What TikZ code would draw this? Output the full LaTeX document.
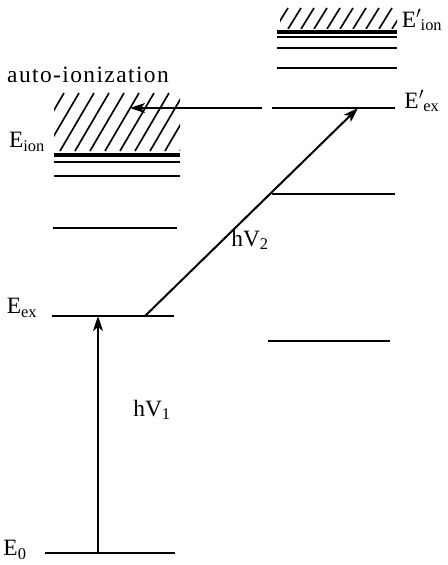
\documentclass[tikz,border=0pt]{standalone}
\usepackage{fontspec}
\setmainfont{Liberation Serif}
\usetikzlibrary{arrows.meta}
\newcommand{\Eprime}[1]{E$'$\kern-0.5pt\textsubscript{#1}}

\begin{document}
\begin{tikzpicture}[x=0.03cm,y=-0.03cm,
    every node/.style={font=\fontsize{20}{23}\selectfont,inner sep=0pt},
    level/.style={line width=2.4pt},
    heavy/.style={line width=3pt},
    hatch/.style={line width=1.4pt},
    arrow/.style={-{Stealth[length=4.5mm,width=3mm,inset=1.2mm]},line width=1.7pt}
]
\useasboundingbox (0,0) rectangle (447,565);

% left column of levels
\draw[level] (45,553) -- (175,553);
\draw[level] (52,316) -- (174,316);
\draw[level] (53,228) -- (177,228);
\draw[level] (54,176) -- (180,176);
\draw[level] (54,162) -- (180,162);
\draw[heavy] (54,155) -- (180,155);
\begin{scope}
  \clip (54,93) rectangle (180,151);
  \foreach \x in {30,45,...,200}
    \draw[hatch] (\x,151) -- ++(34,-58);
\end{scope}

% right column of levels
\draw[level] (268,341) -- (390,341);
\draw[level] (272,194) -- (395,194);
\draw[level] (272,108) -- (395,108);
\draw[level] (277,68) -- (397,68);
\draw[level] (277,48) -- (397,48);
\draw[level] (277,37) -- (397,37);
\draw[heavy] (277,32) -- (397,32);
\begin{scope}
  \clip (280,8) rectangle (397,29);
  \foreach \x in {262,275,...,400}
    \draw[hatch] (\x,29) -- ++(13,-21);
\end{scope}

% transitions
\coordinate (ground) at (98,553);
\coordinate (exc) at (98,316);
\coordinate (start2) at (145,316);
\coordinate (exc2) at (358,108);
\coordinate (tail3) at (262,108);
\coordinate (auto) at (130,108);
\draw[arrow] (ground) -- (exc);
\draw[arrow] (start2) -- (exc2);
\draw[arrow] (tail3) -- (auto);

% labels
\node (autolbl) at (88,75) {\addfontfeature{LetterSpace=6}auto-ionization};
\node (eion) at (27,142) {E\textsubscript{ion}};
\node (eex) at (22,308) {E\textsubscript{ex}};
\node (ezero) at (15,550) {E\textsubscript{0}};
\node (eion2) at (422,20) {\Eprime{ion}};
\node (eex2) at (422,101) {\Eprime{ex}};
\node (hv1) at (152,410) {hV\textsubscript{1}};
\node (hv2) at (250,240) {hV\textsubscript{2}};
\end{tikzpicture}
\end{document}
